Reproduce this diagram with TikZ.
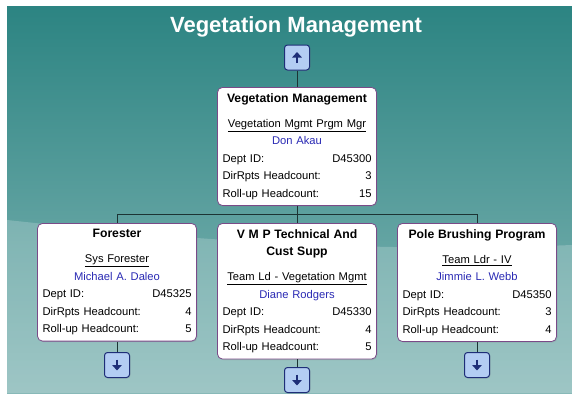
\documentclass[tikz,border=0pt]{standalone}
\usepackage{fontspec}
\setmainfont{Liberation Sans}
\usetikzlibrary{positioning}
\usetikzlibrary{shadows}
\usetikzlibrary{arrows.meta}
\definecolor{tealtop}{HTML}{2C8482}
\definecolor{tealbot}{HTML}{86B8B7}
\definecolor{boxedge}{HTML}{7A4A88}
\definecolor{namecol}{HTML}{2A2AB4}
\definecolor{btnfill}{HTML}{B3CDF3}
\definecolor{btnedge}{HTML}{1E2E78}
\definecolor{wirecol}{HTML}{1C3434}
\newcommand{\unitcard}[6]{{\fontsize{12.2}{17}\selectfont\bfseries #1}\par\vspace{7.5pt}
  \underline{#2}\par
  {\color{namecol}#3}\par
  \makebox[\linewidth]{Dept ID:\hfill #4}\par
  \makebox[\linewidth]{DirRpts Headcount:\hfill #5}\par
  \makebox[\linewidth]{Roll-up Headcount:\hfill #6}}
\tikzset{unit/.style = {draw=boxedge, fill=white, line width=0.8pt, rounded corners=5pt,
                        text width=149pt, inner xsep=5pt, inner ysep=6pt, align=center,
                        font=\fontsize{11.2}{17.5}\selectfont, anchor=north,
                        drop shadow={opacity=0.25, shadow xshift=1pt, shadow yshift=-1pt}}}
\tikzset{btn/.style = {draw=btnedge, fill=btnfill, line width=1pt, rounded corners=3pt,
                       minimum width=25pt, minimum height=25pt, inner sep=0pt,
                       drop shadow={opacity=0.2, shadow xshift=1pt, shadow yshift=-1pt}}}
\tikzset{glyph/.style = {btnedge, line width=2.8pt, -{Triangle[width=9.5pt, length=5.5pt]}}}
\tikzset{wire/.style = {draw=wirecol, line width=0.9pt}}

\begin{document}
\begin{tikzpicture}[x=1pt, y=-1pt]
      \useasboundingbox (0,0) rectangle (572,399);
      \fill[white] (0,0) rectangle (572,399);
      \shade[top color=tealtop, bottom color=tealbot] (7,6) rectangle (572,393);
      \fill[white, opacity=0.2] (7,220) .. controls (120,232) and (320,255) .. (572,245)
            -- (572,393) -- (7,393) -- cycle;
      \node [font=\fontsize{22}{24}\selectfont\bfseries, text=white] (title) at (296,27) {Vegetation Management};
      \node [btn] (up) at (297,57.5) {};
      \node [unit] (vm) at (297,87) {\unitcard{Vegetation Management}{Vegetation Mgmt Prgm Mgr}{Don Akau}{D45300}{3}{15}};
      \coordinate (bus) at (297,214);
      \node [unit] (forester) at (117,223) {\unitcard{Forester}{Sys Forester}{Michael A. Daleo}{D45325}{4}{5}};
      \node [unit] (vmp) at (297,223) {\unitcard{V M P Technical And\\Cust Supp}{Team Ld - Vegetation Mgmt}{Diane Rodgers}{D45330}{4}{5}};
      \node [unit] (pole) at (477,223) {\unitcard{Pole Brushing Program}{Team Ldr - IV}{Jimmie L. Webb}{D45350}{3}{4}};
      \node [btn] (downforester) at (117,365) {};
      \node [btn] (downvmp) at (297,380) {};
      \node [btn] (downpole) at (477,365) {};
      \draw [wire] (up.south) -- (vm.north);
      \draw [wire] (vm.south) -- (vmp.north);
      \draw [wire] (bus) -| (forester.north);
      \draw [wire] (bus) -| (pole.north);
      \draw [wire] (forester.south) -- (downforester.north);
      \draw [wire] (vmp.south) -- (downvmp.north);
      \draw [wire] (pole.south) -- (downpole.north);
      \draw [glyph] ([yshift=-5.5pt]up.center) -- ([yshift=5.5pt]up.center);
      \draw [glyph] ([yshift=5.5pt]downforester.center) -- ([yshift=-5.5pt]downforester.center);
      \draw [glyph] ([yshift=5.5pt]downvmp.center) -- ([yshift=-5.5pt]downvmp.center);
      \draw [glyph] ([yshift=5.5pt]downpole.center) -- ([yshift=-5.5pt]downpole.center);
    \end{tikzpicture}
\end{document}
